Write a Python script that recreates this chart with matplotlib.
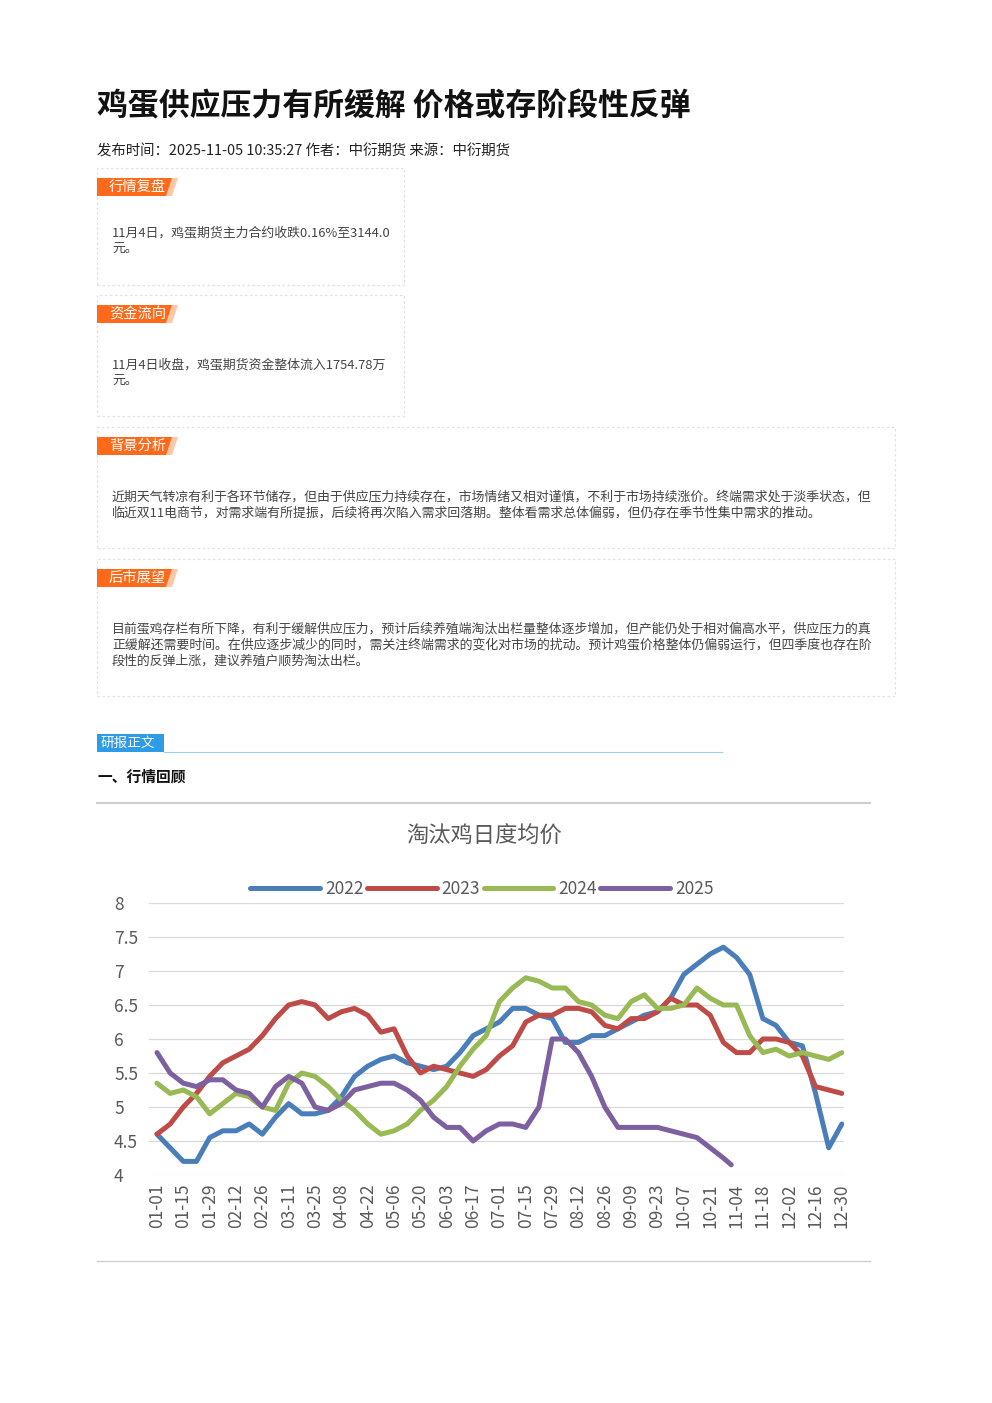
import matplotlib
matplotlib.use("Agg")
import matplotlib.pyplot as plt
import matplotlib.transforms as mt
from matplotlib.patches import Rectangle, Polygon
from matplotlib.lines import Line2D

plt.rcParams['font.family'] = ['Noto Sans CJK SC', 'DejaVu Sans']

tick_labels = ["01-01","01-15","01-29","02-12","02-26","03-11","03-25","04-08","04-22","05-06",
               "05-20","06-03","06-17","07-01","07-15","07-29","08-12","08-26","09-09","09-23",
               "10-07","10-21","11-04","11-18","12-02","12-16","12-30"]
years = ["2022", "2023", "2024", "2025"]
s2022 = [4.6,4.4,4.2,4.2,4.55,4.65,4.65,4.75,4.6,4.85,5.05,4.9,4.9,4.95,5.15,5.45,5.6,5.7,5.75,5.65,
         5.6,5.55,5.6,5.8,6.05,6.15,6.25,6.45,6.45,6.35,6.3,5.95,5.95,6.05,6.05,6.15,6.25,6.35,6.4,6.6,
         6.95,7.1,7.25,7.35,7.2,6.95,6.3,6.2,5.95,5.9,5.2,4.4,4.75]
s2023 = [4.6,4.75,5.0,5.2,5.45,5.65,5.75,5.85,6.05,6.3,6.5,6.55,6.5,6.3,6.4,6.45,6.35,6.1,6.15,5.75,
         5.5,5.6,5.55,5.5,5.45,5.55,5.75,5.9,6.25,6.35,6.35,6.45,6.45,6.4,6.2,6.15,6.3,6.3,6.4,6.6,
         6.5,6.5,6.35,5.95,5.8,5.8,6.0,6.0,5.95,5.75,5.3,5.25,5.2]
s2024 = [5.35,5.2,5.25,5.15,4.9,5.05,5.2,5.15,5.0,4.95,5.35,5.5,5.45,5.3,5.1,4.95,4.75,4.6,4.65,4.75,
         4.95,5.1,5.3,5.6,5.85,6.05,6.55,6.75,6.9,6.85,6.75,6.75,6.55,6.5,6.35,6.3,6.55,6.65,6.45,6.45,
         6.5,6.75,6.6,6.5,6.5,6.05,5.8,5.85,5.75,5.8,5.75,5.7,5.8]
s2025 = [5.8,5.5,5.35,5.3,5.4,5.4,5.25,5.2,5.0,5.3,5.45,5.35,5.0,4.95,5.05,5.25,5.3,5.35,5.35,5.25,
         5.1,4.85,4.7,4.7,4.5,4.65,4.75,4.75,4.7,5.0,6.0,6.0,5.8,5.45,5.0,4.7,4.7,4.7,4.7,4.65,
         4.6,4.55,4.4,4.25,4.15]
colors = ["#4a7ebb", "#be4b48", "#98b954", "#7d60a0"]

W, H = 992, 1403
fig = plt.figure(figsize=(W/100, H/100), dpi=100)
fig.patch.set_facecolor("white")

def fx(x): return x / W
def fy(y): return 1 - y / H

def ptext(x, y, s, **kw):
    fig.text(fx(x), fy(y), s, **kw)

def rect(x0, y0, x1, y1, **kw):
    fig.patches.append(Rectangle((fx(x0), fy(y1)), fx(x1) - fx(x0), fy(y0) - fy(y1),
                                 transform=fig.transFigure, **kw))

def hline(x0, x1, y, **kw):
    fig.lines.append(Line2D([fx(x0), fx(x1)], [fy(y), fy(y)], transform=fig.transFigure, **kw))

# Header
ptext(97, 106, "鸡蛋供应压力有所缓解 价格或存阶段性反弹", fontsize=22.2, fontweight="bold", va="center", color="#111")
ptext(97, 152, "发布时间：2025-11-05 10:35:27 作者：中衍期货 来源：中衍期货", fontsize=10.4, va="center", color="#222")

def box(x0, y0, x1, y1, tag, lines, tx=112, ty0=None, tag_color="#ff6a1a", tag_w=75):
    rect(x0, y0, x1, y1, fill=False, edgecolor="#e2e2e2", linestyle=(0, (2, 2)), linewidth=0.9)
    ty = y0 + 10
    rect(x0, ty, x0 + tag_w, ty + 18, facecolor=tag_color, edgecolor="none")
    fig.patches.append(Polygon([(fx(x0+tag_w), fy(ty)), (fx(x0+tag_w+6), fy(ty)),
                                (fx(x0+tag_w), fy(ty+18)), (fx(x0+tag_w-6), fy(ty+18))],
                               transform=fig.transFigure, facecolor="#ffc7a6", edgecolor="none"))
    ptext(x0 + 12, ty + 9, tag, fontsize=10.3, color="white", va="center")
    for i, l in enumerate(lines):
        ptext(tx, ty0 + 16 * i, l, fontsize=9.3, color="#444", va="center")

box(97, 168, 404, 285, "行情复盘", ["11月4日，鸡蛋期货主力合约收跌0.16%至3144.0", "元。"], ty0=233)
box(97, 295, 404, 416, "资金流向", ["11月4日收盘，鸡蛋期货资金整体流入1754.78万", "元。"], ty0=365)
box(97, 427, 895, 548, "背景分析",
    ["近期天气转凉有利于各环节储存，但由于供应压力持续存在，市场情绪又相对谨慎，不利于市场持续涨价。终端需求处于淡季状态，但",
     "临近双11电商节，对需求端有所提振，后续将再次陷入需求回落期。整体看需求总体偏弱，但仍存在季节性集中需求的推动。"], ty0=497)
box(97, 559, 895, 696, "后市展望",
    ["目前蛋鸡存栏有所下降，有利于缓解供应压力，预计后续养殖端淘汰出栏量整体逐步增加，但产能仍处于相对偏高水平，供应压力的真",
     "正缓解还需要时间。在供应逐步减少的同时，需关注终端需求的变化对市场的扰动。预计鸡蛋价格整体仍偏弱运行，但四季度也存在阶",
     "段性的反弹上涨，建议养殖户顺势淘汰出栏。"], ty0=629)

# 研报正文
rect(97, 734, 164, 752, facecolor="#2e9be6", edgecolor="none")
ptext(101, 743, "研报正文", fontsize=9.8, color="white", va="center")
hline(164, 722, 752, color="#9fd0f2", linewidth=0.8)
ptext(97, 777, "一、行情回顾", fontsize=10.6, fontweight="bold", va="center", color="#111")

# Chart frame lines
hline(97, 870, 803, color="#cfcfcf", linewidth=1.5)
hline(97, 870, 1261, color="#cfcfcf", linewidth=1.0)
ptext(484, 836, "淘汰鸡日度均价", fontsize=16, color="#595959", va="center", ha="center")

ax = fig.add_axes([fx(118), fy(1175), fx(844) - fx(118), fy(903) - fy(1175)])
ax.set_xlim(-1.48, 26.08)
ax.set_ylim(4, 8)
for name, s, c in zip(years, [s2022, s2023, s2024, s2025], colors):
    xs = [i * 0.5 for i in range(len(s))]
    if name == "2025":
        xs[-1] = 21.8
    ax.plot(xs, s, color=c, linewidth=3.6, label=name, solid_capstyle="round")
ax.set_yticks([4, 4.5, 5, 5.5, 6, 6.5, 7, 7.5, 8])
ax.set_yticklabels(["4", "4.5", "5", "5.5", "6", "6.5", "7", "7.5", "8"])
ax.set_xticks(range(27))
ax.set_xticklabels(tick_labels, rotation=90)
ax.tick_params(axis="both", length=0, labelcolor="#595959")
ax.tick_params(axis="y", labelsize=12.5, pad=0)
ax.tick_params(axis="x", labelsize=12.5, pad=6)
for y in [4, 4.5, 5, 5.5, 6, 6.5, 7, 7.5, 8]:
    ax.axhline(y, xmin=(-0.3 + 1.48) / 27.56, color="#d9d9d9", linewidth=0.9, zorder=0)
for sp in ax.spines.values():
    sp.set_visible(False)
for lab in ax.get_yticklabels():
    lab.set_ha("left")
    lab.set_transform(lab.get_transform() + mt.ScaledTranslation(-0.04, 0, fig.dpi_scale_trans))
ax.patch.set_alpha(0)
fig.legend(loc="center", bbox_to_anchor=(fx(482), fy(889)), ncol=4, frameon=False,
           fontsize=12.5, handlelength=4, columnspacing=0.2, handletextpad=0.3, labelcolor="#595959")

fig.savefig("out.png", dpi=100)
